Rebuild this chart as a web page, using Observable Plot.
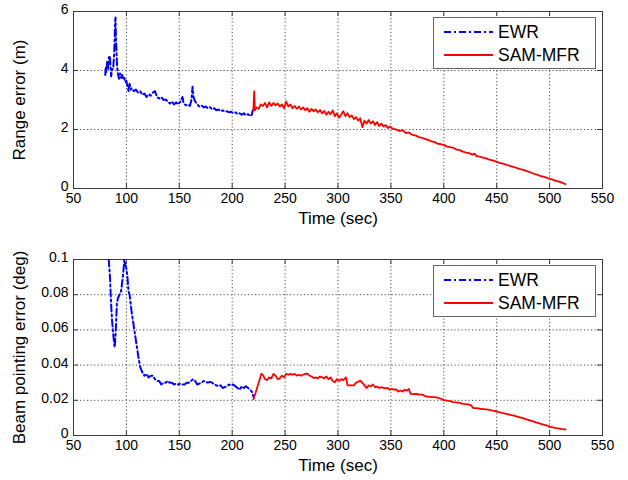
<!DOCTYPE html>
<html>
<head>
<meta charset="utf-8">
<script src="https://cdn.jsdelivr.net/npm/d3@7"></script>
<script src="https://cdn.jsdelivr.net/npm/@observablehq/plot@0.6"></script>
<style>
  body { margin: 0; background: #fff; }
  #wrap { position: relative; width: 628px; height: 480px; font-family: "Liberation Sans", Arial, sans-serif; }
  .panel { position: absolute; left: 0; }
  .legend { position: absolute; border: 1.5px solid #666; background: #fff; box-sizing: border-box; }
  .legend svg { display: block; }
</style>
</head>
<body>
<div id="wrap"></div>
<script>
// ---------- tick labels ----------
const xTicks = [50, 100, 150, 200, 250, 300, 350, 400, 450, 500, 550];
const xTickLabels = ["50", "100", "150", "200", "250", "300", "350", "400", "450", "500", "550"];
const rangeTicks = [0, 2, 4, 6];
const rangeTickLabels = ["0", "2", "4", "6"];
const beamTicks = [0, 0.02, 0.04, 0.06, 0.08, 0.1];
const beamTickLabels = ["0", "0.02", "0.04", "0.06", "0.08", "0.1"];
const seriesNames = ["EWR", "SAM-MFR"];

// ---------- top panel: range error (m) ----------
const ewrRangeTime = [80, 80.5, 81, 81.8, 82.5, 83.5, 84.4, 85, 85.6, 86.5, 87.5, 88.5, 89.3, 89.7, 90.2, 90.6, 91.2, 92, 93, 94, 95, 96, 97, 98, 99, 100, 101, 102, 103, 104, 105, 107, 109, 111, 113, 115, 117, 119, 121, 123, 125, 127, 129, 131, 133, 135, 137, 139, 141, 143, 145, 147, 149, 151, 153, 154, 156, 158, 160, 161.5, 162.5, 163.5, 165, 167, 169, 171, 173, 175, 177, 179, 181, 183, 185, 187, 189, 191, 193, 195, 197, 199, 201, 203, 205, 207, 209, 211, 213, 215, 217, 218.5, 219.5];
const ewrRangeVal = [3.85, 4.1, 3.95, 4.3, 4.05, 4.45, 4.5, 4.1, 3.8, 4.05, 4.05, 4.6, 5.6, 5.8, 5.0, 4.7, 4.15, 3.9, 3.72, 3.9, 3.75, 3.85, 3.7, 3.75, 3.6, 3.65, 3.45, 3.3, 3.55, 3.35, 3.4, 3.3, 3.35, 3.25, 3.3, 3.18, 3.22, 3.1, 3.2, 3.15, 3.25, 3.3, 3.1, 3.05, 3.1, 3.0, 3.02, 2.95, 2.88, 2.95, 2.85, 2.92, 2.85, 2.95, 3.1, 2.9, 2.82, 2.85, 2.8, 3.0, 3.45, 3.1, 2.95, 2.85, 2.78, 2.82, 2.75, 2.78, 2.72, 2.76, 2.68, 2.72, 2.65, 2.68, 2.62, 2.65, 2.6, 2.62, 2.58, 2.6, 2.55, 2.58, 2.52, 2.55, 2.5, 2.55, 2.48, 2.52, 2.45, 2.5, 2.65];

const samRangeTime = [220, 220.8, 221.5, 223, 225, 227, 229, 231, 233, 235, 237, 239, 241, 243, 245, 247, 249, 251, 253, 255, 257, 259, 261, 263, 265, 267, 269, 271, 273, 275, 277, 279, 281, 283, 285, 287, 289, 291, 293, 295, 297, 299, 301, 303, 305, 307, 309, 311, 313, 315, 317, 319, 321, 323, 325, 327, 329, 331, 333, 335, 337, 339, 341, 343, 345, 347, 349, 352, 355, 358, 361, 364, 367, 370, 373, 376, 379, 382, 385, 388, 391, 394, 397, 400, 403, 406, 409, 412, 415, 418, 421, 424, 427, 429, 431, 434, 437, 440, 443, 446, 449, 452, 455, 458, 461, 464, 467, 470, 473, 476, 479, 482, 485, 488, 491, 494, 497, 500, 503, 506, 509, 512, 515];
const samRangeVal = [2.65, 3.3, 2.65, 2.75, 2.7, 2.85, 2.8, 2.9, 2.75, 2.92, 2.8, 2.9, 2.82, 2.88, 2.78, 2.85, 2.72, 2.95, 2.78, 2.85, 2.72, 2.8, 2.7, 2.78, 2.68, 2.75, 2.65, 2.72, 2.6, 2.7, 2.62, 2.68, 2.58, 2.66, 2.55, 2.63, 2.5, 2.6, 2.52, 2.65, 2.45, 2.55, 2.4, 2.5, 2.62, 2.45, 2.55, 2.42, 2.48, 2.35, 2.42, 2.3, 2.38, 2.08, 2.3, 2.2, 2.32, 2.2, 2.28, 2.15, 2.25, 2.12, 2.2, 2.1, 2.15, 2.05, 2.1, 2.02, 2.0, 1.95, 1.98, 1.88, 1.9, 1.82, 1.8, 1.75, 1.72, 1.68, 1.65, 1.6, 1.58, 1.52, 1.5, 1.48, 1.42, 1.4, 1.38, 1.32, 1.3, 1.25, 1.22, 1.2, 1.15, 1.18, 1.1, 1.08, 1.05, 1.02, 0.98, 0.95, 0.92, 0.88, 0.85, 0.82, 0.78, 0.75, 0.72, 0.68, 0.65, 0.62, 0.58, 0.55, 0.5, 0.47, 0.43, 0.4, 0.37, 0.33, 0.3, 0.26, 0.23, 0.19, 0.15];

// ---------- bottom panel: beam pointing error (deg) ----------
const ewrBeamTime = [83.3, 84.5, 85.5, 86.5, 87.5, 88.5, 89, 90, 91, 92, 93.5, 95, 96, 97, 98, 99, 100, 101, 102, 103, 104, 105, 107, 108.5, 110, 111.5, 113, 115, 117, 119, 121, 123, 125, 127, 129, 131, 133, 135, 137, 139, 141, 143, 145, 147, 149, 151, 153, 155, 157, 159, 161, 163, 165, 167, 169, 171, 173, 175, 177, 179, 181, 183, 185, 187, 189, 191, 193, 195, 197, 199, 201, 203, 205, 207, 209, 211, 213, 215, 217, 219, 220];
const ewrBeamVal = [0.1, 0.09, 0.075, 0.065, 0.058, 0.052, 0.05, 0.06, 0.075, 0.078, 0.08, 0.082, 0.087, 0.092, 0.1, 0.097, 0.095, 0.09, 0.082, 0.08, 0.075, 0.07, 0.062, 0.056, 0.05, 0.044, 0.039, 0.036, 0.034, 0.035, 0.033, 0.034, 0.034, 0.032, 0.031, 0.031, 0.029, 0.03, 0.03, 0.031, 0.03, 0.03, 0.029, 0.0295, 0.029, 0.0295, 0.029, 0.029, 0.03, 0.03, 0.031, 0.032, 0.031, 0.029, 0.0295, 0.03, 0.031, 0.0305, 0.03, 0.0305, 0.03, 0.029, 0.0285, 0.028, 0.0285, 0.027, 0.0275, 0.028, 0.029, 0.0285, 0.029, 0.028, 0.027, 0.026, 0.028, 0.027, 0.028, 0.027, 0.026, 0.0245, 0.022];

const samBeamTime = [220, 222, 224, 226, 227.5, 229, 231, 233, 235, 237, 239, 241, 243, 245, 247, 249, 251, 253, 255, 257, 259, 261, 263, 265, 267, 269, 271, 273, 275, 277, 279, 281, 283, 285, 287, 289, 291, 293, 295, 297, 299, 301, 303, 305, 307.5, 309, 312, 315, 317, 319, 321, 323, 325, 327, 329, 331, 333, 335, 337, 339, 341, 343, 345, 347, 349, 351, 353, 355, 357, 359, 361, 363, 365, 367, 368.5, 371, 374, 377, 380, 382, 385, 388, 391, 394, 397, 400, 403, 406, 409, 412, 415, 418, 421, 424, 426, 428, 431, 434, 437, 440, 443, 446, 449, 452, 455, 458, 461, 464, 467, 470, 473, 476, 479, 482, 485, 488, 491, 494, 497, 500, 503, 506, 509, 512, 515];
const samBeamVal = [0.0205, 0.024, 0.028, 0.032, 0.035, 0.0345, 0.032, 0.0315, 0.033, 0.0325, 0.035, 0.034, 0.032, 0.0325, 0.034, 0.033, 0.035, 0.0345, 0.035, 0.0345, 0.035, 0.034, 0.0345, 0.034, 0.0345, 0.035, 0.0352, 0.034, 0.0335, 0.0326, 0.033, 0.0325, 0.0335, 0.033, 0.0325, 0.0335, 0.032, 0.033, 0.031, 0.0303, 0.032, 0.031, 0.032, 0.0315, 0.033, 0.0285, 0.0285, 0.0285, 0.03, 0.0305, 0.0312, 0.03, 0.0285, 0.027, 0.0285, 0.028, 0.029, 0.0275, 0.0278, 0.027, 0.0275, 0.027, 0.0268, 0.027, 0.026, 0.0265, 0.026, 0.0262, 0.025, 0.0255, 0.025, 0.026, 0.0255, 0.0265, 0.0237, 0.0235, 0.0236, 0.0232, 0.0232, 0.0225, 0.022, 0.022, 0.0218, 0.0215, 0.021, 0.0201, 0.0198, 0.0195, 0.019, 0.0188, 0.0185, 0.018, 0.0178, 0.0175, 0.017, 0.0155, 0.0156, 0.0152, 0.015, 0.0148, 0.0145, 0.0141, 0.0138, 0.0133, 0.0128, 0.0124, 0.012, 0.0116, 0.0111, 0.0106, 0.0101, 0.0096, 0.009, 0.0085, 0.0079, 0.0073, 0.0068, 0.0062, 0.0057, 0.0051, 0.0046, 0.0042, 0.0039, 0.0036, 0.0034];

const BLUE = "#0000ff", RED = "#ff0000";
const DASHDOT = "7,3,2,3";
const FONT = '"Liberation Sans", Arial, sans-serif';

const toRows = (ts, vs) => ts.map((t, i) => ({t, v: vs[i]}));

function panel({top, height, marginTop, marginBottom, yDomain, yTicks, yLabels, yLabel, ewr, sam, xLabelOffset}) {
  const W = 628, ML = 73, MR = 26;
  const innerH = height - marginTop - marginBottom;
  const gridStyle = {stroke: "#000", strokeOpacity: 0.8, strokeDasharray: "1.2,2.3", strokeWidth: 0.9};
  const svg = Plot.plot({
    width: W, height, marginLeft: ML, marginRight: MR, marginTop, marginBottom,
    style: {fontFamily: FONT, fontSize: "14px", color: "#000", background: "#fff", overflow: "visible"},
    x: {domain: [50, 550]},
    y: {domain: yDomain},
    marks: [
      Plot.gridX(xTicks.slice(1, -1), gridStyle),
      Plot.gridY(yTicks.slice(1, -1), gridStyle),
      Plot.frame({stroke: "#3a3a3a", strokeWidth: 1}),
      Plot.tickX(xTicks, {x: d => d, insetTop: innerH - 5, stroke: "#3a3a3a"}),
      Plot.tickX(xTicks, {x: d => d, insetBottom: innerH - 5, stroke: "#3a3a3a"}),
      Plot.tickY(yTicks, {y: d => d, insetRight: (W - ML - MR) - 5, stroke: "#3a3a3a"}),
      Plot.tickY(yTicks, {y: d => d, insetLeft: (W - ML - MR) - 5, stroke: "#3a3a3a"}),
      Plot.axisX(xTicks, {tickSize: 0, tickPadding: 5, tickFormat: (d, i) => xTickLabels[i],
        label: "Time (sec)", labelAnchor: "center", labelArrow: "none", labelOffset: xLabelOffset, fontSize: 14}),
      Plot.axisY(yTicks, {tickSize: 0, tickPadding: 5, dy: -2, tickFormat: (d, i) => yLabels[i],
        label: yLabel, labelAnchor: "center", labelArrow: "none", labelOffset: 61, fontSize: 14}),
      Plot.line(ewr, {x: "t", y: "v", stroke: BLUE, strokeWidth: 2, strokeDasharray: DASHDOT, clip: true}),
      Plot.line(sam, {x: "t", y: "v", stroke: RED, strokeWidth: 1.8, clip: true})
    ]
  });
  svg.classList.add("panel");
  svg.style.top = top + "px";
  svg.querySelectorAll("[aria-label='x-axis label'] text, [aria-label='y-axis label'] text").forEach(t => {
    t.style.fontSize = "17px";
  });
  return svg;
}

function legend(left, top) {
  const div = document.createElement("div");
  div.className = "legend";
  div.style.left = left + "px";
  div.style.top = top + "px";
  div.style.width = "163px";
  div.style.height = "52px";
  const ns = "http://www.w3.org/2000/svg";
  const s = document.createElementNS(ns, "svg");
  s.setAttribute("width", 160); s.setAttribute("height", 49);
  const rows = [{name: seriesNames[0], color: BLUE, dash: DASHDOT, w: 2}, {name: seriesNames[1], color: RED, dash: null, w: 1.8}];
  rows.forEach((r, i) => {
    const y = 14 + i * 23;
    const l = document.createElementNS(ns, "line");
    l.setAttribute("x1", 10); l.setAttribute("x2", 59); l.setAttribute("y1", y); l.setAttribute("y2", y);
    l.setAttribute("stroke", r.color); l.setAttribute("stroke-width", r.w);
    if (r.dash) l.setAttribute("stroke-dasharray", r.dash);
    s.appendChild(l);
    const t = document.createElementNS(ns, "text");
    t.setAttribute("x", 64); t.setAttribute("y", y); t.setAttribute("dy", "0.36em");
    t.setAttribute("font-family", FONT); t.setAttribute("font-size", "17.5px");
    t.textContent = r.name;
    s.appendChild(t);
  });
  div.appendChild(s);
  return div;
}

const wrap = document.getElementById("wrap");
wrap.appendChild(panel({top: 0, height: 240, marginTop: 11, marginBottom: 52,
  yDomain: [0, 6], yTicks: rangeTicks, yLabels: rangeTickLabels, yLabel: "Range error (m)",
  ewr: toRows(ewrRangeTime, ewrRangeVal), sam: toRows(samRangeTime, samRangeVal), xLabelOffset: 35}));
wrap.appendChild(panel({top: 240, height: 240, marginTop: 19, marginBottom: 45,
  yDomain: [0, 0.1], yTicks: beamTicks, yLabels: beamTickLabels, yLabel: "Beam pointing error (deg)",
  ewr: toRows(ewrBeamTime, ewrBeamVal), sam: toRows(samBeamTime, samBeamVal), xLabelOffset: 35}));
wrap.appendChild(legend(433, 17));
wrap.appendChild(legend(433, 265));
</script>
</body>
</html>
